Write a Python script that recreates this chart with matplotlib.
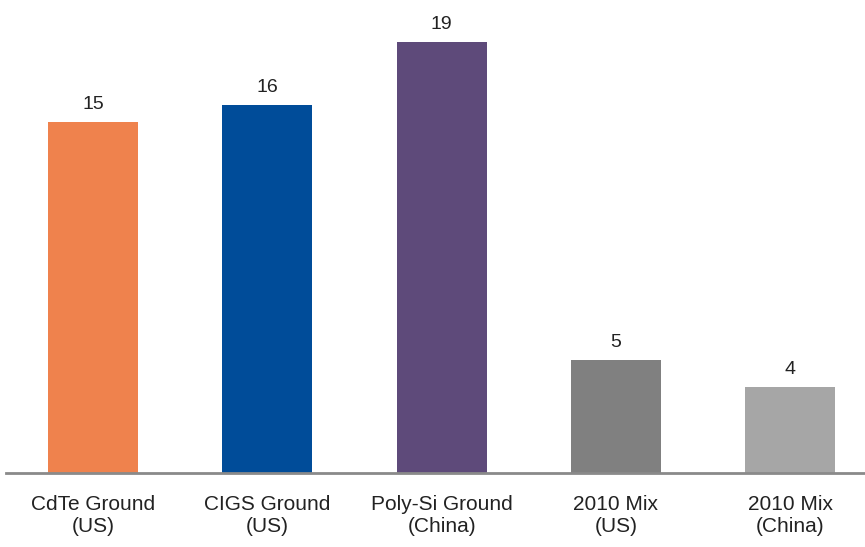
import matplotlib.pyplot as plt

categories = ["CdTe Ground\n(US)", "CIGS Ground\n(US)", "Poly-Si Ground\n(China)",
              "2010 Mix\n(US)", "2010 Mix\n(China)"]
values = [15.45, 16.2, 19.0, 4.98, 3.8]
value_labels = ["15", "16", "19", "5", "4"]
colors = ["#EF824D", "#004C99", "#5E4A7A", "#808080", "#A6A6A6"]

plt.rcParams['font.family'] = ['Liberation Sans', 'DejaVu Sans']

fig = plt.figure(figsize=(8.65, 5.47), dpi=100)
ax = fig.add_axes([6 / 865, 1 - 473 / 547, 1 - 6 / 865, 473 / 547])

x = range(len(categories))
bars = ax.bar(x, values, width=0.516, color=colors)

for b, lab in zip(bars, value_labels):
    ax.text(b.get_x() + b.get_width() / 2, b.get_height() + 0.4, lab,
            ha='center', va='bottom', fontsize=14, color='#222222')

ax.set_xlim(-0.5, 4.43)
ax.set_ylim(0, 473 / 22.7)

for s in ['top', 'right', 'left']:
    ax.spines[s].set_visible(False)
ax.spines['bottom'].set_color('#8a8a8a')
ax.spines['bottom'].set_linewidth(2)
ax.set_yticks([])
ax.set_xticks(list(x))
ax.set_xticklabels(categories, fontsize=15, color='#222222', linespacing=1.2)
ax.tick_params(axis='x', length=0, pad=16)

fig.savefig('out.png', dpi=100)
